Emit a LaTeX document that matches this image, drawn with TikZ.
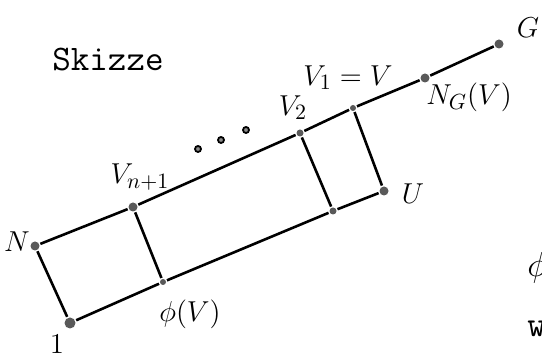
\documentclass[tikz,border=0pt]{standalone}
\usepackage{fontspec}
\newcommand{\hs}{\fontsize{15}{18}\selectfont}
\newcommand{\ts}{\ttfamily\fontsize{18}{20}\selectfont}

\begin{document}
\begin{tikzpicture}[x=0.5pt, y=-0.5pt, line width=1.3pt]
  \tikzset{pkt/.style={circle, fill=black!65, inner sep=0pt, minimum size=4.5pt},
           lbl/.style={font=\hs, inner sep=0pt}}
  \useasboundingbox (0,0) rectangle (542,358);
  % Ueberschrift
  \node[font=\ts, inner sep=0pt] (titel) at (108,60) {Skizze};
  % Punkte oben
  \node[pkt] (N) at (35,246) {};
  \node[pkt] (Vn1) at (133,207) {};
  \node[pkt, minimum size=3.5pt] (V2) at (300,133) {};
  \node[pkt, minimum size=3pt] (V1) at (353,108) {};
  \node[pkt] (NG) at (425,78) {};
  \node[pkt] (G) at (499,44) {};
  % Punkte unten
  \node[pkt, minimum size=5.5pt] (E) at (70,323) {};
  \node[pkt, minimum size=3pt] (Phi) at (163,282) {};
  \node[pkt, minimum size=3.5pt] (W2) at (333,211) {};
  \node[pkt] (U) at (384,191) {};
  % Kanten
  \draw (N) -- (Vn1) -- (V2) -- (V1) -- (NG) -- (G);
  \draw (E) -- (Phi) -- (W2) -- (U);
  \draw (N) -- (E);
  \draw (Vn1) -- (Phi);
  \draw (V2) -- (W2);
  \draw (V1) -- (U);
  % Auslassung
  \foreach \x/\y [count=\i] in {198/149, 221/140, 246/130}
    \node[circle, draw, fill=black!45, line width=0.9pt, inner sep=0pt, minimum size=3pt] (d\i) at (\x,\y) {};
  % Beschriftung
  \node[lbl] (lN) at (17,242) {$N$};
  \node[lbl] (lE) at (57,344) {$1$};
  \node[lbl] (lVn1) at (140,177) {$V_{n+1}$};
  \node[lbl] (lV2) at (293,108) {$V_2$};
  \node[lbl] (lV1) at (348,78) {$V_1=V$};
  \node[lbl] (lNG) at (469,97) {$N_G(V)$};
  \node[lbl] (lG) at (528,28) {$G$};
  \node[lbl] (lU) at (413,194) {$U$};
  \node[lbl] (lPhi) at (190,314) {$\phi(V)$};
  % abgeschnittener Text rechts
  \node[font=\ts, inner sep=0pt, anchor=west] (rphi) at (526,268) {$\phi$};
  \node[font=\ts, inner sep=0pt, anchor=west] (rw) at (526,329) {w};
\end{tikzpicture}
\end{document}
